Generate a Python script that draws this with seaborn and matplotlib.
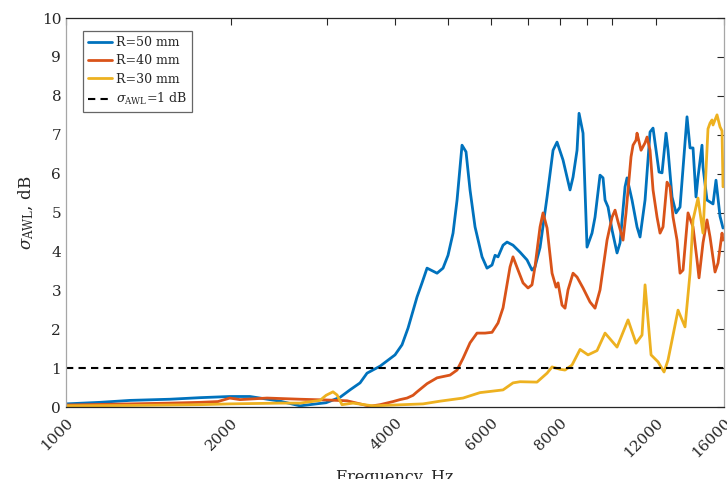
import numpy as np
import pandas as pd
import matplotlib
matplotlib.use("Agg")
import matplotlib.pyplot as plt
import seaborn as sns

# ---- data ----
f50 = [1000, 1154, 1310, 1550, 1759, 1994, 2171, 2464, 2680, 2991, 3173, 3309,
       3452, 3555, 3756, 4000, 4120, 4226, 4389, 4482, 4578, 4775, 4897, 5001, 5108,
       5195, 5305, 5395, 5487, 5604, 5772, 5894, 6020, 6097, 6174, 6306, 6413, 6576,
       6774, 6977, 7124, 7214, 7370, 7591, 7785, 7917, 8119, 8257, 8362, 8469, 8613,
       8686, 8833, 8983, 9174, 9291, 9489, 9610, 9692, 9815, 9982, 10194, 10324,
       10544, 10633, 10859, 11090, 11231, 11471, 11715, 11864, 11965, 12168, 12322,
       12532, 12638, 12853, 13071, 13293, 13690, 13865, 14041, 14219, 14339, 14582,
       14644, 14892, 15085, 15276, 15468, 15733, 15933]
v50 = [0.08, 0.12, 0.17, 0.20, 0.24, 0.27, 0.27, 0.15, 0.03, 0.11, 0.25, 0.44,
       0.62, 0.87, 1.05, 1.34, 1.60, 2.03, 2.83, 3.19, 3.57, 3.44, 3.57, 3.90, 4.47,
       5.32, 6.73, 6.56, 5.58, 4.63, 3.86, 3.57, 3.65, 3.90, 3.86, 4.16, 4.24, 4.16,
       3.98, 3.78, 3.52, 3.60, 4.10, 5.40, 6.60, 6.81, 6.35, 5.91, 5.58, 5.91, 6.60,
       7.55, 7.04, 4.11, 4.47, 4.88, 5.96, 5.89, 5.32, 5.14, 4.55, 3.96, 4.22,
       5.66, 5.89, 5.32, 4.63, 4.37, 5.32, 7.07, 7.17, 6.79, 6.04, 6.02,
       7.04, 6.60, 5.40, 4.99, 5.14, 7.46, 6.66, 6.66, 5.40, 5.91, 6.73,
       6.17, 5.32, 5.27, 5.22, 5.83, 4.90, 4.60]

f40 = [1000, 1310, 1550, 1759, 1897, 1994, 2082, 2333, 2680, 3004, 3268, 3452, 3600,
       3756, 3967, 4085, 4208, 4315, 4389, 4578, 4775, 5043, 5195, 5327, 5487, 5651,
       5845, 6020, 6174, 6306, 6494, 6576, 6717, 6860, 7006, 7124, 7214, 7370, 7463,
       7591, 7752, 7884, 7951, 8085, 8188, 8292, 8469, 8613, 8833, 9097, 9291, 9489,
       9774, 9982, 10109, 10237, 10455, 10588, 10813, 10905, 11043, 11090, 11279,
       11471, 11568, 11715, 11864, 12066, 12219, 12374, 12585, 12745, 12907, 13126,
       13293, 13462, 13748, 14041, 14279, 14400, 14644, 14892, 15085, 15405, 15601,
       15866, 15933]
v40 = [0.05, 0.08, 0.10, 0.12, 0.14, 0.23, 0.19, 0.23, 0.20, 0.18, 0.16, 0.08, 0.02,
       0.06, 0.14, 0.19, 0.23, 0.30, 0.39, 0.60, 0.75, 0.82, 0.95, 1.25, 1.65, 1.90,
       1.90, 1.92, 2.16, 2.55, 3.60, 3.86, 3.52, 3.19, 3.06, 3.14, 3.60, 4.63, 4.99,
       4.60, 3.44, 3.08, 3.19, 2.62, 2.54, 3.01, 3.44, 3.34, 3.06, 2.70, 2.54, 3.01,
       4.29, 4.88, 5.06, 4.76, 4.29, 4.99, 6.43, 6.73, 6.86, 7.04, 6.60,
       6.79, 6.94, 6.60, 5.58, 4.88, 4.47, 4.63, 5.78, 5.66, 4.88, 4.29,
       3.44, 3.52, 4.99, 4.63, 3.78, 3.32, 4.22, 4.81, 4.37, 3.47, 3.70,
       4.47, 4.29]

f30 = [1000, 1310, 1759, 1994, 2464, 2680, 2916, 2991, 3080, 3133, 3199, 3351, 3555,
       3646, 3967, 4315, 4501, 4835, 5327, 5723, 5970, 6306, 6576, 6774, 7275, 7591,
       7752, 8017, 8188, 8433, 8723, 9021, 9370, 9692, 10194, 10678, 11043, 11326,
       11471, 11765, 12117, 12427, 12638, 12853, 13182, 13575, 13865, 14041, 14339,
       14644, 14955, 15085, 15212, 15276, 15535, 15733, 15866, 15933]
v30 = [0.03, 0.04, 0.06, 0.08, 0.10, 0.10, 0.17, 0.30, 0.39, 0.31, 0.06, 0.10, 0.05,
       0.03, 0.05, 0.07, 0.08, 0.15, 0.23, 0.37, 0.40, 0.44, 0.62, 0.65, 0.64, 0.87,
       1.03, 0.97, 0.95, 1.08, 1.48, 1.34, 1.45, 1.90, 1.54, 2.24, 1.64, 1.85,
       3.14, 1.34, 1.16, 0.90, 1.21, 1.72, 2.49, 2.06, 3.44, 4.81, 5.37,
       4.47, 7.15, 7.30, 7.38, 7.25, 7.51, 7.20, 7.10, 5.66]

labels = ["R=50 mm", "R=40 mm", "R=30 mm"]
colors = ["#0072BD", "#D95319", "#EDB120"]
threshold = 1.0
xticks = [1000, 2000, 3000, 4000, 5000, 6000, 7000, 8000, 9000, 10000, 12000, 16000]
xticklabels = ["1000", "2000", "", "4000", "", "6000", "", "8000", "", "", "12000", "16000"]
yticks = list(range(0, 11))

# ---- build long-form table ----
df = pd.concat([
    pd.DataFrame({"f": f50, "v": v50, "s": labels[0]}),
    pd.DataFrame({"f": f40, "v": v40, "s": labels[1]}),
    pd.DataFrame({"f": f30, "v": v30, "s": labels[2]}),
], ignore_index=True)

sns.set_theme(style="white")
plt.rcParams["font.family"] = ["DejaVu Serif"]
plt.rcParams["mathtext.fontset"] = "dejavuserif"

fig = plt.figure(figsize=(7.27, 4.79), dpi=100)
ax = fig.add_axes([0.0908, 0.1503, 0.9051, 0.8121])

sns.lineplot(data=df, x="f", y="v", hue="s", palette=dict(zip(labels, colors)),
             hue_order=labels, sort=False, estimator=None, linewidth=2.0, ax=ax)
ax.axhline(threshold, color="black", linestyle=(0, (3.5, 2.5)), linewidth=1.5,
           label=r"$\sigma_{\mathrm{AWL}}$=1 dB")

ax.set_xscale("log")
ax.set_xlim(1000, 16000)
ax.set_ylim(0, 10)
ax.xaxis.set_minor_locator(matplotlib.ticker.NullLocator())
ax.set_xticks(xticks)
ax.set_xticklabels(xticklabels)
ax.set_yticks(yticks)

ax.tick_params(axis="both", which="major", direction="in", length=5, width=0.8,
               top=True, right=True, labelsize=11, colors="#262626")
plt.setp(ax.get_xticklabels(), rotation=45, ha="right", va="top",
         rotation_mode="anchor")
ax.tick_params(axis="x", pad=6)

for side in ["top", "bottom"]:
    ax.spines[side].set_color("#262626")
    ax.spines[side].set_linewidth(0.9)
for side in ["left", "right"]:
    ax.spines[side].set_color("#a6a6a6")
    ax.spines[side].set_linewidth(0.9)

ax.set_xlabel("Frequency, Hz", fontsize=11.5, color="#262626", labelpad=7)
ax.set_ylabel(r"$\sigma_{\mathrm{AWL}}$, dB", fontsize=12, color="#262626", labelpad=4)

handles, labs = ax.get_legend_handles_labels()
leg = ax.legend(handles, labs, loc="upper left", bbox_to_anchor=(0.026, 0.966),
                fontsize=9, frameon=True, fancybox=False, handlelength=1.9,
                handletextpad=0.3, borderpad=0.4, labelspacing=0.42,
                borderaxespad=0)
leg.get_frame().set_edgecolor("#404040")
leg.get_frame().set_linewidth(0.9)

fig.savefig("out.png", dpi=100)
